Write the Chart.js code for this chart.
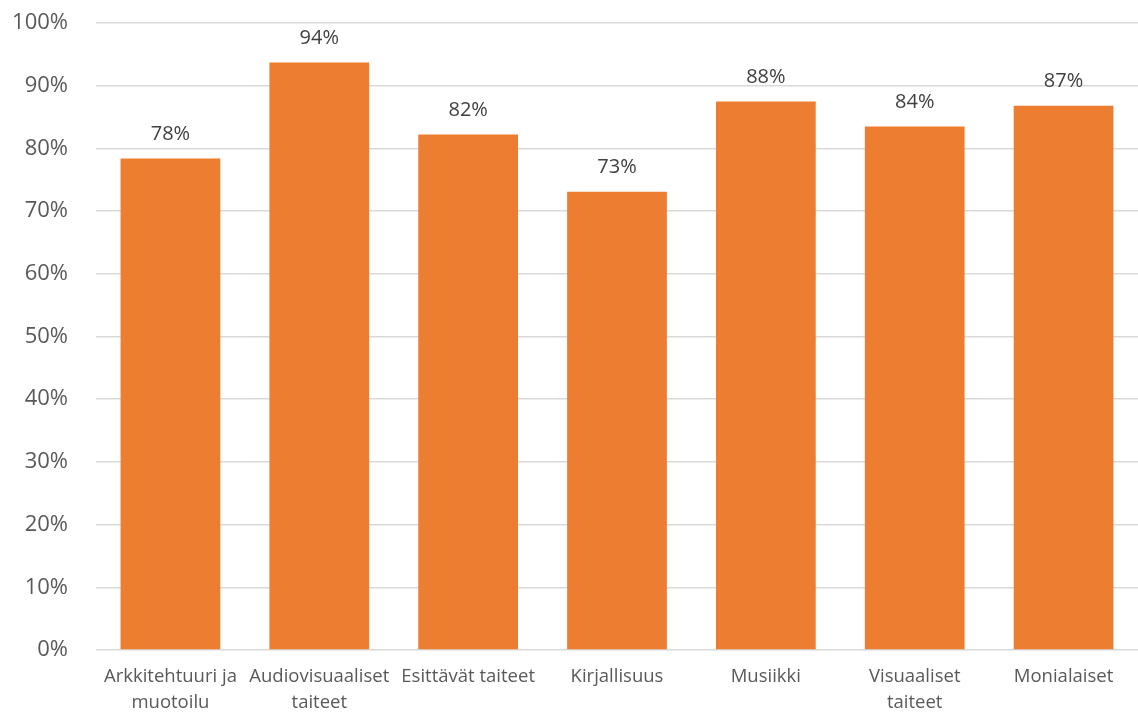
<!DOCTYPE html>
<html>
<head>
<meta charset="utf-8">
<script src="https://cdn.jsdelivr.net/npm/chart.js@4/dist/chart.umd.min.js"></script>
<style>
  html, body { margin: 0; padding: 0; background: #fff; }
  #wrap { width: 1138px; height: 713px; }
</style>
</head>
<body>
<div id="wrap"><canvas id="artsChart"></canvas></div>
<script>
// categories (split into lines like the axis shows them)
var categories = [
  ['Arkkitehtuuri ja', 'muotoilu'],
  ['Audiovisuaaliset', 'taiteet'],
  'Esittävät taiteet',
  'Kirjallisuus',
  'Musiikki',
  ['Visuaaliset', 'taiteet'],
  'Monialaiset'
];
var shares = [78.4, 93.7, 82.2, 73.1, 87.5, 83.5, 86.8];
var yTicks = [0, 10, 20, 30, 40, 50, 60, 70, 80, 90, 100];

var barColor = '#ED7D31';
var fontFamily = "'Open Sans', 'Liberation Sans', sans-serif";

// draws the percentage above each bar
var valueLabels = {
  id: 'valueLabels',
  afterDatasetsDraw: function(chart) {
    var ctx = chart.ctx;
    var meta = chart.getDatasetMeta(0);
    ctx.save();
    ctx.font = '20px ' + fontFamily;
    ctx.fillStyle = '#404040';
    ctx.textAlign = 'center';
    ctx.textBaseline = 'bottom';
    meta.data.forEach(function(bar, i) {
      var v = chart.data.datasets[0].data[i];
      ctx.fillText(Math.round(v) + '%', bar.x, bar.y - 14);
    });
    ctx.restore();
  }
};

var ctx = document.getElementById('artsChart');
var artsChart = new Chart(ctx, {
  type: 'bar',
  data: {
    labels: categories,
    datasets: [{
      data: shares,
      backgroundColor: barColor,
      barPercentage: 0.67,
      categoryPercentage: 1.0
    }]
  },
  options: {
    responsive: true,
    maintainAspectRatio: false,
    animation: false,
    layout: { padding: { top: 0, left: 8, right: 0, bottom: 0 } },
    plugins: {
      legend: { display: false },
      tooltip: { enabled: false }
    },
    scales: {
      y: {
        min: 0,
        max: 100,
        afterBuildTicks: function(axis) {
          axis.ticks = yTicks.map(function(v) { return { value: v }; });
        },
        afterFit: function(axis) {
          axis.width = 88;
          axis.paddingTop = 23;
          axis.paddingBottom = 0;
        },
        ticks: {
          callback: function(v) { return v + '%'; },
          color: '#595959',
          font: { family: fontFamily, size: 22 },
          padding: 28
        },
        grid: { color: '#d9d9d9', lineWidth: 1.5, drawTicks: false },
        border: { display: false }
      },
      x: {
        afterFit: function(axis) {
          // the category labels may hang past the plot edges
          axis.paddingLeft = 0;
          axis.paddingRight = 0;
          axis.height = 63;
        },
        ticks: {
          color: '#595959',
          font: { family: fontFamily, size: 18.5, lineHeight: 1.4 },
          padding: 6,
          maxRotation: 0,
          autoSkip: false
        },
        grid: { display: false },
        border: { display: false }
      }
    }
  },
  plugins: [valueLabels]
});
</script>
</body>
</html>
